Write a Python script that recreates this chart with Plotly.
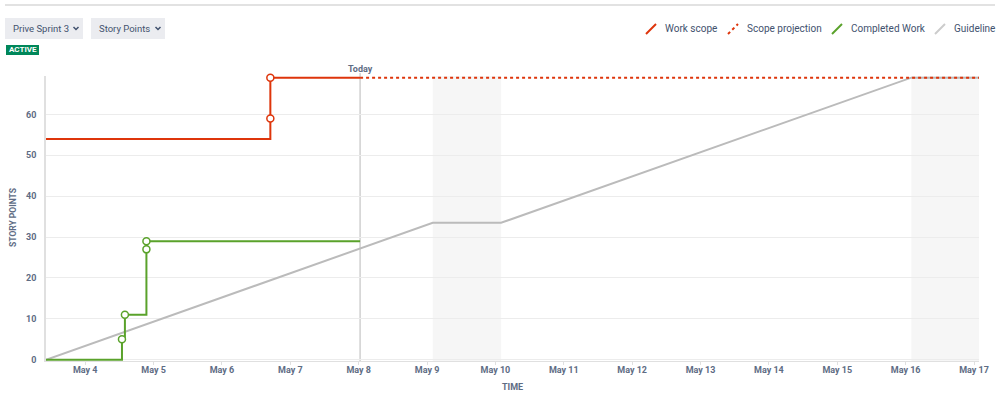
import plotly.graph_objects as go

# ---- data ----
sprint_start = "2023-05-03 10:15"
sprint_end = "2023-05-17 01:45"
today = "2023-05-08 00:30"

scope_times = [sprint_start, "2023-05-06 17:00", "2023-05-06 17:00", today]
scope_values = [54, 59, 69, 69]
scope_marker_times = ["2023-05-06 17:00", "2023-05-06 17:00"]
scope_marker_values = [59, 69]

projection_times = [today, sprint_end]
projection_values = [69, 69]

completed_times = [sprint_start, "2023-05-04 12:55", "2023-05-04 13:57",
                   "2023-05-04 21:30", "2023-05-04 21:30", today]
completed_values = [0, 5, 11, 27, 29, 29]
completed_marker_times = ["2023-05-04 12:55", "2023-05-04 13:57",
                          "2023-05-04 21:30", "2023-05-04 21:30"]
completed_marker_values = [5, 11, 27, 29]

guide_times = [sprint_start, "2023-05-09 02:00", "2023-05-10 02:00",
               "2023-05-16 02:00", sprint_end]
guide_values = [0, 33.5, 33.5, 69, 69]

nonworking = [("2023-05-09 02:00", "2023-05-10 02:00"),
              ("2023-05-16 02:00", sprint_end)]

tick_dates = ["2023-05-%02d" % d for d in range(4, 18)]
tick_labels = ["May %d" % d for d in range(4, 18)]
y_ticks = [0, 10, 20, 30, 40, 50, 60]

legend_items = [("Work scope", "solid"), ("Scope projection", "dot"),
                ("Completed Work", "solid"), ("Guideline", "solid")]

RED = "#de350b"
GREEN = "#5aa22b"
GRAY = "#bbbbbb"
TXT = "#5e6c84"
FONT = "Roboto"

fig = go.Figure()

fig.add_trace(go.Scatter(x=guide_times, y=guide_values, mode="lines",
                         line=dict(color=GRAY, width=2), hoverinfo="skip"))
fig.add_trace(go.Scatter(x=projection_times, y=projection_values, mode="lines",
                         line=dict(color=RED, width=2, dash="dot"), hoverinfo="skip"))
fig.add_trace(go.Scatter(x=scope_times, y=scope_values, mode="lines",
                         line=dict(color=RED, width=2, shape="hv")))
fig.add_trace(go.Scatter(x=completed_times, y=completed_values, mode="lines",
                         line=dict(color=GREEN, width=2, shape="hv")))
fig.add_trace(go.Scatter(x=scope_marker_times, y=scope_marker_values, mode="markers",
                         marker=dict(symbol="circle", size=7, color="white",
                                     line=dict(color=RED, width=1.5)),
                         cliponaxis=False))
fig.add_trace(go.Scatter(x=completed_marker_times, y=completed_marker_values, mode="markers",
                         marker=dict(symbol="circle", size=7, color="white",
                                     line=dict(color=GREEN, width=1.5)),
                         cliponaxis=False))

pw, ph = 933.0, 285.0
def px(xp):
    return (xp - 46) / pw
def py(yp):
    return (361 - yp) / ph

shapes = []
for a, b in nonworking:
    shapes.append(dict(type="rect", xref="x", yref="paper", x0=a, x1=b, y0=0, y1=1,
                       fillcolor="#f6f6f6", line=dict(width=0), layer="below"))
# today line
shapes.append(dict(type="line", xref="x", yref="paper", x0=today, x1=today, y0=0, y1=py(73),
                   line=dict(color="#d0d0d0", width=1.5), layer="below"))
# top separator line
shapes.append(dict(type="line", xref="paper", yref="paper",
                   x0=px(5), x1=px(995), y0=py(5), y1=py(5),
                   line=dict(color="#e2e2e2", width=2)))

annotations = []
annotations.append(dict(x=today, y=py(69), xref="x", yref="paper", text="<b>Today</b>",
                        showarrow=False, yanchor="middle",
                        font=dict(size=9, color=TXT, family=FONT)))
# axis titles
annotations.append(dict(x=0.5, y=py(387), xref="paper", yref="paper", text="<b>TIME</b>",
                        showarrow=False, yanchor="middle", xanchor="center",
                        font=dict(size=9, color=TXT, family=FONT)))
annotations.append(dict(x=px(13), y=py(218), xref="paper", yref="paper", text="<b>STORY POINTS</b>",
                        showarrow=False, yanchor="middle", xanchor="center", textangle=-90,
                        font=dict(size=8.5, color=TXT, family=FONT)))

leg_x = [646, 728, 832, 935]
leg_colors = [RED, RED, GREEN, "#cccccc"]
for (name, dash), x0, col in zip(legend_items, leg_x, leg_colors):
    shapes.append(dict(type="line", xref="paper", yref="paper",
                       x0=px(x0), x1=px(x0 + 10), y0=py(34), y1=py(24),
                       line=dict(color=col, width=2, dash=dash)))
    annotations.append(dict(x=px(x0 + 17), y=py(29), xref="paper", yref="paper",
                            text=name, showarrow=False, xanchor="left", yanchor="middle",
                            font=dict(size=10, color="#42526e", family=FONT)))

# dropdown buttons
for x0, x1, label in [(5, 83, "Prive Sprint 3"), (91, 165, "Story Points")]:
    shapes.append(dict(type="rect", xref="paper", yref="paper",
                       x0=px(x0), x1=px(x1), y0=py(39), y1=py(18),
                       fillcolor="#ebecf0", line=dict(width=0)))
    annotations.append(dict(x=px(x0 + 6), y=py(28.5), xref="paper", yref="paper",
                            text=label, showarrow=False, xanchor="left", yanchor="middle",
                            font=dict(size=9.5, color="#42526e", family=FONT)))
    # chevron
    shapes.append(dict(type="path", xref="paper", yref="paper",
                       path="M %f %f L %f %f L %f %f" % (px(x1 - 9.5), py(27), px(x1 - 7), py(29.5),
                                                         px(x1 - 4.5), py(27)),
                       line=dict(color="#42526e", width=1.5)))
# ACTIVE badge
shapes.append(dict(type="rect", xref="paper", yref="paper",
                   x0=px(6), x1=px(39), y0=py(55), y1=py(45),
                   fillcolor="#00875a", line=dict(width=0)))
annotations.append(dict(x=(px(6) + px(39)) / 2, y=py(50), xref="paper", yref="paper",
                        text="<b>ACTIVE</b>", showarrow=False, xanchor="center", yanchor="middle",
                        font=dict(size=8, color="white", family=FONT)))

fig.update_layout(
    width=999, height=394,
    margin=dict(l=46, r=20, t=76, b=33, autoexpand=False),
    paper_bgcolor="white", plot_bgcolor="white",
    showlegend=False,
    font=dict(family=FONT, color=TXT),
    shapes=shapes, annotations=annotations,
    xaxis=dict(
        type="date", range=[sprint_start, sprint_end], automargin=False,
        tickvals=tick_dates, ticktext=tick_labels,
        tickfont=dict(size=9, color=TXT, family=FONT, weight="bold"),
        ticks="outside", ticklen=3, tickcolor="#e0e0e0",
        ticklabelstandoff=-3,
        showgrid=False, zeroline=False,
        showline=True, linecolor="#e0e0e0", linewidth=1,
    ),
    yaxis=dict(
        range=[-0.3, 69.4], automargin=False,
        tickvals=y_ticks,
        tickfont=dict(size=9, color=TXT, family=FONT, weight="bold"),
        showgrid=True, gridcolor="#ececec", gridwidth=1,
        zeroline=False,
        showline=True, linecolor="#e0e0e0", linewidth=1.5,
        ticks="", ticklabelstandoff=6,
    ),
)

fig.write_html("out.html")
